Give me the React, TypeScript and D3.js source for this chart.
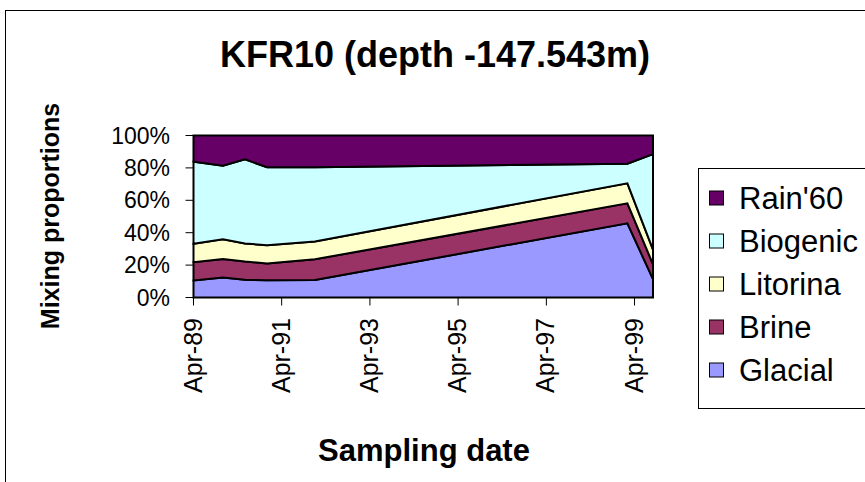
import React from "react";
import * as d3 from "d3";

// Sampling dates (year-month) and mixing proportions (%) per end-member
const sampleDates = ["1989-04", "1989-12", "1990-06", "1990-12", "1992-01", "1999-02", "1999-09"];
const glacial = [10.5, 12.3, 11.0, 10.6, 10.8, 45.8, 11.3];
const brine = [11.3, 11.5, 11.2, 10.4, 12.8, 12.3, 9.2];
const litorina = [11.4, 12.1, 11.2, 11.2, 11.0, 12.4, 9.0];
const biogenic = [50.6, 45.5, 51.9, 48.2, 45.8, 12.1, 59.0];
const rain60 = [16.2, 18.6, 14.7, 19.6, 19.6, 17.4, 11.5];

const seriesNames = ["Glacial", "Brine", "Litorina", "Biogenic", "Rain'60"];
const seriesColors = ["#9999FF", "#993366", "#FFFFCC", "#CCFFFF", "#660066"];
const yTicks = [0, 20, 40, 60, 80, 100];
const xTickDates = ["1989-04", "1991-04", "1993-04", "1995-04", "1997-04", "1999-04"];

const FONT = "'Liberation Sans', Arial, sans-serif";

export default function App() {
  const W = 865;
  const H = 482;
  const plot = { left: 193.5, right: 653, top: 135.5, bottom: 297.5 };

  const parse = d3.timeParse("%Y-%m");
  const values = [glacial, brine, litorina, biogenic, rain60];
  const rows = sampleDates.map((d, i) => {
    const r: any = { date: parse(d) };
    seriesNames.forEach((k, j) => (r[k] = values[j][i]));
    return r;
  });

  const layers = d3.stack<any>().keys(seriesNames)(rows);

  const x = d3
    .scaleTime()
    .domain(d3.extent(rows, (r: any) => r.date) as [Date, Date])
    .range([plot.left, plot.right]);
  const y = d3.scaleLinear().domain([0, 100]).range([plot.bottom, plot.top]);

  const area = d3
    .area<any>()
    .x((d) => x(d.data.date))
    .y0((d) => y(d[0]))
    .y1((d) => y(d[1]));

  const fmt = d3.timeFormat("%b-%y");
  const ticks = xTickDates.map((d) => parse(d) as Date);

  const legendItems = seriesNames.map((n, i) => ({ name: n, color: seriesColors[i] })).reverse();
  const legend = { x: 698.5, y: 168.5, w: 200, h: 240, rowTop: 198, rowStep: 43 };

  return (
    <svg
      width={W}
      height={H}
      style={{ position: "absolute", left: 0, top: 0, background: "#fff" }}
      fontFamily={FONT}
    >
      <rect x={0} y={0} width={W} height={H} fill="#fff" />
      {/* chart area frame */}
      <rect x={5.5} y={10.5} width={W + 20} height={H + 20} fill="none" stroke="#000" strokeWidth={1} />

      <text x={435} y={67} textAnchor="middle" fontSize={36} fontWeight="bold">
        KFR10 (depth -147.543m)
      </text>

      {/* stacked areas */}
      {layers.map((layer, i) => (
        <path
          key={seriesNames[i]}
          d={area(layer) || ""}
          fill={seriesColors[i]}
          stroke="#000"
          strokeWidth={2}
          strokeLinejoin="miter"
        />
      ))}

      {/* y axis */}
      <line x1={plot.left} x2={plot.left} y1={plot.top} y2={plot.bottom} stroke="#000" strokeWidth={1} />
      {yTicks.map((t) => (
        <g key={t}>
          <line x1={plot.left - 8} x2={plot.left} y1={y(t)} y2={y(t)} stroke="#000" strokeWidth={1} />
          <text x={170} y={y(t) + 8} textAnchor="end" fontSize={23}>
            {t}%
          </text>
        </g>
      ))}

      {/* x axis */}
      <line x1={plot.left} x2={plot.right} y1={plot.bottom} y2={plot.bottom} stroke="#000" strokeWidth={1} />
      {ticks.map((t) => (
        <g key={t.getTime()}>
          <line x1={x(t)} x2={x(t)} y1={plot.bottom} y2={plot.bottom + 8} stroke="#000" strokeWidth={1} />
          <text
            transform={`translate(${x(t) + 8},318) rotate(-90)`}
            textAnchor="end"
            fontSize={25}
          >
            {fmt(t)}
          </text>
        </g>
      ))}

      {/* axis titles */}
      <text transform="translate(59,216) rotate(-90)" textAnchor="middle" fontSize={25} fontWeight="bold">
        Mixing proportions
      </text>
      <text x={424} y={461} textAnchor="middle" fontSize={31} fontWeight="bold">
        Sampling date
      </text>

      {/* legend */}
      <rect x={legend.x} y={legend.y} width={legend.w} height={legend.h} fill="#fff" stroke="#000" strokeWidth={1} />
      {legendItems.map((it, i) => {
        const cy = legend.rowTop + i * legend.rowStep;
        return (
          <g key={it.name}>
            <rect x={709.5} y={cy - 7} width={14} height={14} fill={it.color} stroke="#000" strokeWidth={1} />
            <text x={739} y={cy + 11} fontSize={31}>
              {it.name}
            </text>
          </g>
        );
      })}
    </svg>
  );
}
